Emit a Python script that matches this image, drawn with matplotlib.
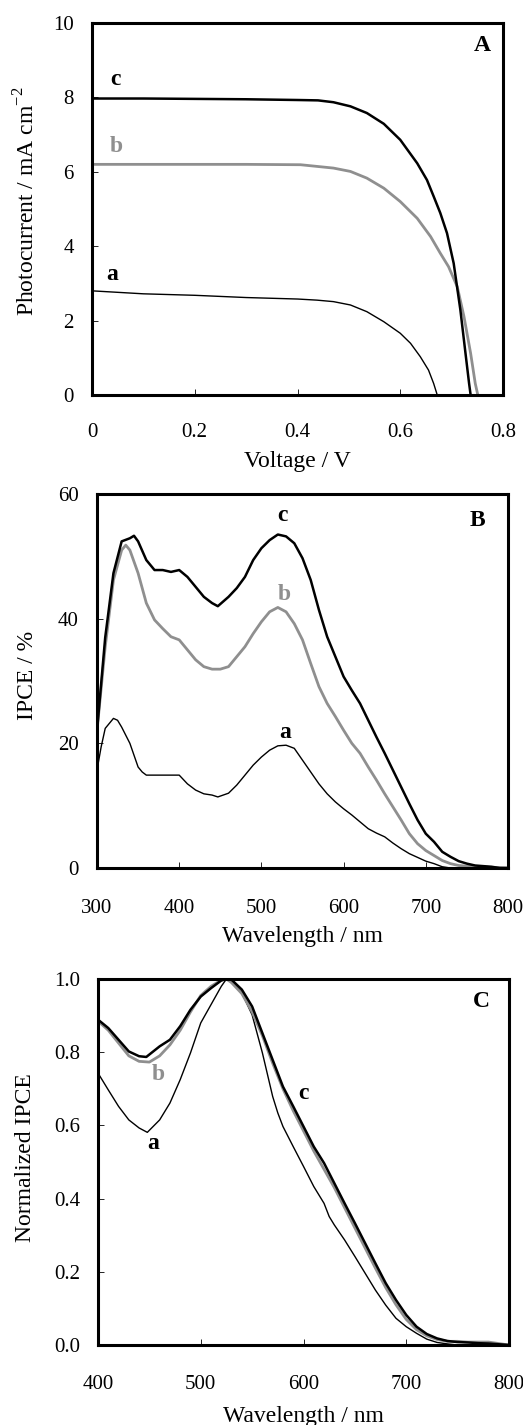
import matplotlib
matplotlib.use("Agg")
import matplotlib.pyplot as plt

# Panel A: photocurrent-voltage curves
voltage_a = [0, 0.05, 0.1, 0.15, 0.2, 0.25, 0.3, 0.35, 0.4, 0.438, 0.47, 0.503, 0.535, 0.568, 0.6,
             0.62, 0.639, 0.655, 0.665, 0.672]
current_a = [2.8, 2.76, 2.72, 2.7, 2.68, 2.65, 2.62, 2.6, 2.58, 2.55, 2.51, 2.42, 2.24, 1.97, 1.66,
             1.39, 1.03, 0.67, 0.31, 0.0]
voltage_b = [0, 0.1, 0.2, 0.3, 0.406, 0.47, 0.503, 0.535, 0.568, 0.6, 0.633, 0.659, 0.678, 0.694,
             0.711, 0.724, 0.737, 0.746, 0.751]
current_b = [6.2, 6.2, 6.2, 6.2, 6.19, 6.1, 6.01, 5.83, 5.56, 5.2, 4.75, 4.26, 3.81, 3.45,
             2.91, 2.11, 1.12, 0.31, 0.0]
voltage_c = [0, 0.1, 0.2, 0.3, 0.4, 0.44, 0.47, 0.503, 0.535, 0.568, 0.6, 0.633, 0.652, 0.665, 0.678,
             0.691, 0.704, 0.717, 0.727, 0.734, 0.737]
current_c = [7.97, 7.97, 7.96, 7.95, 7.93, 7.92, 7.87, 7.76, 7.58, 7.29, 6.86, 6.23, 5.78, 5.34, 4.89,
             4.35, 3.54, 2.29, 1.12, 0.31, 0.0]

# Panel B: IPCE spectra
wl_b = [300, 310, 320, 330, 340, 345, 350, 360, 370, 380, 390, 400, 410, 420, 430, 440, 447,
        460, 470, 480, 490, 500, 510, 520, 530, 540, 550, 560, 570, 580, 590, 600, 610, 620,
        630, 640, 650, 660, 670, 680, 690, 700, 710, 720, 730, 740, 750, 760, 770, 780, 790, 800]
ipce_c = [22, 37, 47.3, 52.4, 52.9, 53.3, 52.4, 49.4, 47.8, 47.8, 47.5, 47.8, 46.7, 45.1, 43.5, 42.5, 42.0,
          43.5, 44.9, 46.7, 49.4, 51.3, 52.6, 53.5, 53.2, 52.1, 49.7, 46.2, 41.4, 37.1, 33.9, 30.7, 28.5, 26.4,
          23.7, 21.0, 18.4, 15.7, 13.0, 10.3, 7.7, 5.5, 4.2, 2.6, 1.8, 1.1, 0.7, 0.4, 0.3, 0.2, 0.0, 0.0]
wl_b_gray = [300, 310, 320, 330, 335, 340, 350, 360, 370, 380, 390, 400, 410, 420, 430, 440, 450,
             460, 470, 480, 490, 500, 510, 520, 530, 540, 550, 560, 570, 580, 590, 600, 610, 620,
             630, 640, 650, 660, 670, 680, 690, 700, 710, 720, 730, 740, 750, 760, 780, 800]
ipce_b = [22, 35.5, 46.2, 51.0, 51.8, 51.0, 47.3, 42.5, 39.8, 38.4, 37.1, 36.6, 35.0, 33.4, 32.3, 31.9, 31.9,
          32.3, 33.9, 35.5, 37.6, 39.5, 41.1, 41.8, 41.1, 39.2, 36.6, 32.8, 29.1, 26.4, 24.3, 22.1, 20.0, 18.4,
          16.2, 14.1, 11.9, 9.8, 7.7, 5.5, 3.9, 2.8, 2.0, 1.2, 0.7, 0.4, 0.3, 0.2, 0.1, 0.0]
wl_a = [300, 305, 310, 320, 325, 330, 340, 350, 355, 360, 370, 380, 390, 400, 410, 420, 430, 440, 447,
        460, 470, 480, 490, 500, 510, 520, 530, 540, 550, 560, 570, 580, 590, 600, 610, 620, 630,
        640, 650, 660, 670, 680, 690, 700, 710, 720, 730, 800]
ipce_a = [15.7, 19.4, 22.4, 24.0, 23.7, 22.6, 20.0, 16.2, 15.4, 14.9, 14.9, 14.9, 14.9, 14.9, 13.5, 12.5, 11.9, 11.7, 11.4,
          12.0, 13.3, 14.9, 16.5, 17.8, 18.9, 19.6, 19.7, 19.2, 17.3, 15.4, 13.5, 11.9, 10.6, 9.5, 8.5, 7.4, 6.3,
          5.6, 5.0, 4.0, 3.1, 2.3, 1.7, 1.1, 0.7, 0.2, 0.0, 0.0]

# Panel C: normalized IPCE
wl_n = [400, 410, 420, 430, 440, 447, 460, 470, 480, 490, 500, 510, 520, 525, 530, 540, 550, 560, 570,
        580, 590, 600, 610, 620, 630, 640, 650, 660, 670, 680, 690, 700, 710, 720, 730, 740, 750,
        760, 770, 780, 790, 800]
norm_c = [0.889, 0.866, 0.834, 0.802, 0.789, 0.787, 0.816, 0.834, 0.871, 0.916, 0.952, 0.975, 0.996, 1.0, 0.998,
          0.971, 0.925, 0.852, 0.779, 0.706, 0.652, 0.597, 0.542, 0.497, 0.442, 0.387, 0.333, 0.278, 0.223,
          0.169, 0.123, 0.082, 0.050, 0.030, 0.018, 0.011, 0.008, 0.007, 0.005, 0.004, 0.002, 0.0]
wl_n_gray = [400, 410, 420, 430, 440, 450, 460, 470, 480, 490, 500, 510, 520, 525, 530, 540, 550, 560, 570,
             580, 590, 600, 610, 620, 630, 640, 650, 660, 670, 680, 690, 700, 710, 720, 730, 740, 750,
             760, 780, 790, 800]
norm_b = [0.885, 0.86, 0.825, 0.79, 0.775, 0.773, 0.79, 0.82, 0.86, 0.91, 0.955, 0.98, 0.997, 1.0, 0.99,
          0.96, 0.91, 0.845, 0.77, 0.70, 0.64, 0.585, 0.53, 0.48, 0.43, 0.375, 0.32, 0.265, 0.21,
          0.157, 0.11, 0.07, 0.042, 0.025, 0.015, 0.01, 0.01, 0.008, 0.008, 0.004, 0.0]
wl_n_a = [400, 410, 420, 430, 440, 448, 460, 470, 480, 490, 500, 510, 520, 525, 530, 540, 550, 560, 570,
          575, 580, 590, 600, 610, 620, 625, 630, 640, 650, 660, 670, 680, 690, 700, 710, 720, 730,
          740, 750, 800]
norm_a = [0.743, 0.697, 0.652, 0.615, 0.593, 0.581, 0.615, 0.661, 0.725, 0.798, 0.880, 0.930, 0.980, 1.0, 0.994,
          0.962, 0.902, 0.798, 0.679, 0.634, 0.597, 0.542, 0.488, 0.433, 0.387, 0.351, 0.328, 0.287, 0.242,
          0.196, 0.150, 0.109, 0.073, 0.050, 0.032, 0.016, 0.007, 0.003, 0.0, 0.0]

GRAY = "#8f8f8f"

plt.rcParams["font.family"] = ["Liberation Serif", "DejaVu Serif"]
plt.rcParams["mathtext.fontset"] = "custom"
plt.rcParams["mathtext.rm"] = "Liberation Serif"

fig = plt.figure(figsize=(5.23, 14.25), dpi=100)

axA = fig.add_axes([92 / 523, 1 - 395 / 1425, 411 / 523, 372 / 1425])
axB = fig.add_axes([97 / 523, 1 - 868 / 1425, 411 / 523, 374 / 1425])
axC = fig.add_axes([98 / 523, 1 - 1345 / 1425, 411 / 523, 366 / 1425])


def style_axes(ax, xpad):
    for sp in ax.spines.values():
        sp.set_linewidth(2.2)
    ax.tick_params(direction="in", length=4, width=0.6, labelsize=15,
                   top=False, right=False)
    ax.tick_params(axis="x", pad=xpad)
    ax.tick_params(axis="y", pad=13)


# --- A ---
axA.plot(voltage_a, current_a, color="black", lw=1.0)
axA.plot(voltage_b, current_b, color=GRAY, lw=2.0)
axA.plot(voltage_c, current_c, color="black", lw=1.8)
axA.set_xlim(0, 0.8)
axA.set_ylim(0, 10)
axA.set_xticks([0, 0.2, 0.4, 0.6, 0.8])
axA.set_xticklabels(["0", "0.2", "0.4", "0.6", "0.8"])
axA.set_yticks([0, 2, 4, 6, 8, 10])
style_axes(axA, 20)
axA.set_xlabel("Voltage / V", fontsize=17, va="baseline")
axA.xaxis.set_label_coords(0.5, -0.1935)
axA.set_ylabel("Photocurrent / mA cm$^{-2}$", fontsize=17, va="center")
axA.yaxis.set_label_coords(-0.158, 0.52)
axA.text(0.045, 8.47, "c", fontsize=17, fontweight="bold", ha="center", va="center")
axA.text(0.047, 6.67, "b", fontsize=17, fontweight="bold", ha="center", va="center", color=GRAY)
axA.text(0.04, 3.23, "a", fontsize=17, fontweight="bold", ha="center", va="center")
axA.text(0.759, 9.4, "A", fontsize=17, fontweight="bold", ha="center", va="center")

# --- B ---
axB.plot(wl_a, ipce_a, color="black", lw=1.0)
axB.plot(wl_b_gray, ipce_b, color=GRAY, lw=2.0)
axB.plot(wl_b, ipce_c, color="black", lw=1.8)
axB.set_xlim(300, 800)
axB.set_ylim(0, 60)
axB.set_xticks([300, 400, 500, 600, 700, 800])
axB.set_yticks([0, 20, 40, 60])
style_axes(axB, 22)
axB.set_xlabel("Wavelength / nm", fontsize=17, va="baseline")
axB.xaxis.set_label_coords(0.5, -0.198)
axB.set_ylabel("IPCE / %", fontsize=17, va="center")
axB.yaxis.set_label_coords(-0.17, 0.516)
axB.text(526, 56.6, "c", fontsize=17, fontweight="bold", ha="center", va="center")
axB.text(528, 43.8, "b", fontsize=17, fontweight="bold", ha="center", va="center", color=GRAY)
axB.text(529, 21.8, "a", fontsize=17, fontweight="bold", ha="center", va="center")
axB.text(763, 55.8, "B", fontsize=17, fontweight="bold", ha="center", va="center")

# --- C ---
axC.plot(wl_n_a, norm_a, color="black", lw=1.0)
axC.plot(wl_n_gray, norm_b, color=GRAY, lw=2.0)
axC.plot(wl_n, norm_c, color="black", lw=1.8)
axC.set_xlim(400, 800)
axC.set_ylim(0, 1.0)
axC.set_xticks([400, 500, 600, 700, 800])
axC.set_yticks([0, 0.2, 0.4, 0.6, 0.8, 1.0])
axC.set_yticklabels(["0.0", "0.2", "0.4", "0.6", "0.8", "1.0"])
style_axes(axC, 21.5)
axC.set_xlabel("Wavelength / nm", fontsize=17, va="baseline")
axC.xaxis.set_label_coords(0.5, -0.21)
axC.set_ylabel("Normalized IPCE", fontsize=17, va="center")
axC.yaxis.set_label_coords(-0.177, 0.513)
axC.text(459, 0.738, "b", fontsize=17, fontweight="bold", ha="center", va="center", color=GRAY)
axC.text(454, 0.55, "a", fontsize=17, fontweight="bold", ha="center", va="center")
axC.text(600, 0.688, "c", fontsize=17, fontweight="bold", ha="center", va="center")
axC.text(773, 0.939, "C", fontsize=17, fontweight="bold", ha="center", va="center")

fig.savefig("out.png", dpi=100)
